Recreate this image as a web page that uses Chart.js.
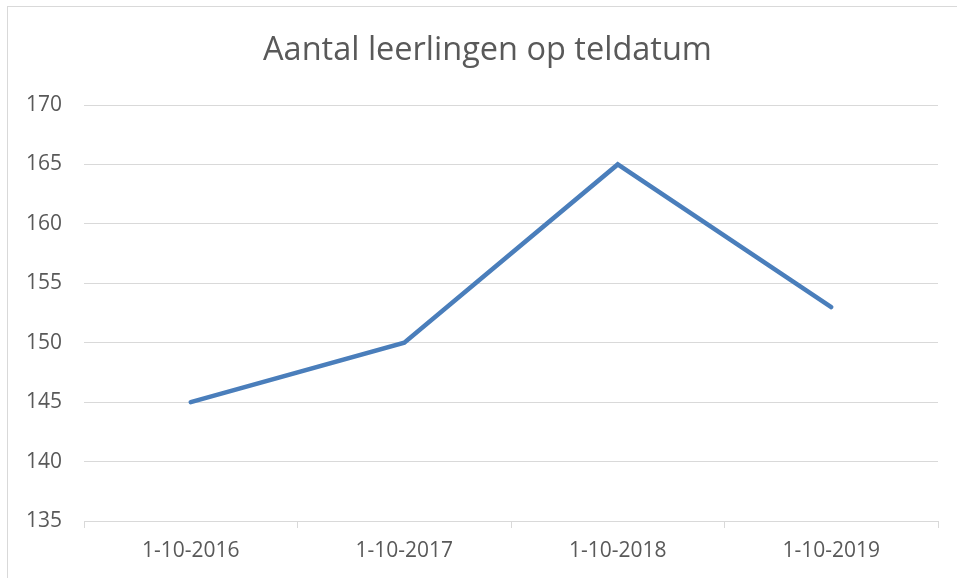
<!DOCTYPE html>
<html>
<head>
<meta charset="utf-8">
<script src="https://cdn.jsdelivr.net/npm/chart.js@4.4.0/dist/chart.umd.min.js"></script>
<style>
  html, body { margin: 0; padding: 0; background: #fff; overflow: hidden; }
  #wrap { position: relative; width: 957px; height: 578px; }
  #frame { position: absolute; left: 7px; top: 6px; width: 1000px; height: 1000px; border: 1px solid #d9d9d9; box-sizing: border-box; }
  canvas { position: absolute; left: 0; top: 0; }
</style>
</head>
<body>
<div id="wrap">
  <div id="frame"></div>
  <canvas id="chart" width="957" height="578"></canvas>
</div>
<script>
const labels = ['1-10-2016', '1-10-2017', '1-10-2018', '1-10-2019']
const leerlingen = [145, 150, 165, 153]
const yMin = 135
const yMax = 170
const yStep = 5

const textColor = '#595959'
const gridColor = '#d9d9d9'
const fontFam = "'Open Sans', 'Liberation Sans', sans-serif"

const ctx = document.getElementById('chart')

// title sits a bit right of the canvas center in the original
const shiftTitle = {
    id: 'shiftTitle',
    afterLayout: (chart) => {
        const t = chart.titleBlock
        if (t) { t.left += 18.5; t.right += 18.5 }
    }
}

new Chart(ctx, {
    type: 'line',
    data: {
        labels,
        datasets: [{
            label: 'Aantal leerlingen',
            data: leerlingen,
            borderColor: '#4a7ebb',
            borderWidth: 4.5,
            pointRadius: 0,
            tension: 0,
            borderCapStyle: 'round',
            borderJoinStyle: 'miter'
        }]
    },
    options: {
        responsive: false,
        animation: false,
        layout: { padding: { left: 0, right: 19, top: 0, bottom: 0 } },
        plugins: {
            legend: { display: false },
            tooltip: { enabled: false },
            title: {
                display: true,
                text: 'Aantal leerlingen op teldatum',
                color: textColor,
                font: { family: fontFam, size: 32.5, weight: 'normal', lineHeight: 1.2 },
                padding: { top: 31, bottom: 35 }
            }
        },
        scales: {
            x: {
                offset: true,
                grid: { display: true, offset: true, drawOnChartArea: false, drawTicks: true, tickLength: 7, color: gridColor },
                border: { display: true, color: gridColor },
                ticks: { color: textColor, padding: 10, font: { family: fontFam, size: 21 }, maxRotation: 0 },
                afterFit: (s) => { s.height = 57 }
            },
            y: {
                min: yMin,
                max: yMax,
                ticks: { stepSize: yStep, color: textColor, padding: 22, font: { family: fontFam, size: 21 } },
                grid: { color: gridColor, drawTicks: false, lineWidth: 1 },
                border: { display: false },
                afterFit: (s) => { s.width = 84 }
            }
        }
    },
    plugins: [shiftTitle]
})
</script>
</body>
</html>
